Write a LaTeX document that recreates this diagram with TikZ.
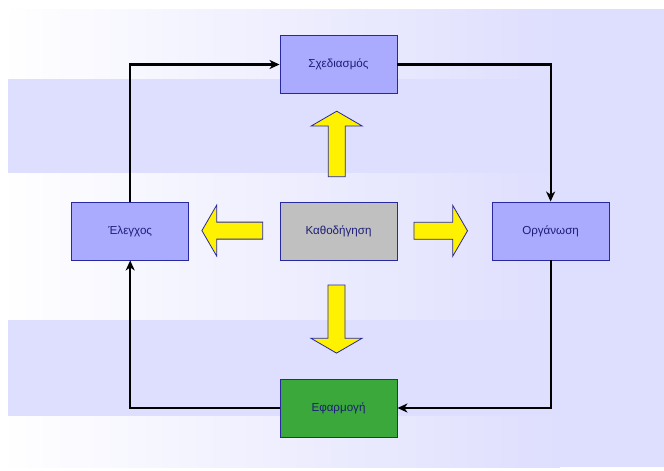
\documentclass[tikz,border=0pt]{standalone}
\usepackage{fontspec}
\setmainfont{Liberation Sans}
\usetikzlibrary{arrows.meta}

\definecolor{bandc}{RGB}{222,222,254}
\definecolor{boxblue}{RGB}{170,170,255}
\definecolor{boxgray}{RGB}{192,192,192}
\definecolor{boxgreen}{RGB}{58,168,58}
\definecolor{edgeblue}{RGB}{40,40,160}
\definecolor{textnavy}{RGB}{30,30,120}

\tikzset{
  stage/.style={draw=edgeblue, line width=0.9pt, minimum width=117pt, minimum height=58pt,
    inner sep=0pt, font=\fontsize{11.6}{13}\selectfont, text=textnavy},
  conn/.style={draw=black, line width=2.2pt,
    -{Stealth[length=10pt,width=9pt,inset=3pt]}},
  yellowarrow/.style={fill=yellow, draw=edgeblue, line width=0.8pt, line join=miter},
  pics/blockarrow/.style={code={
    \path[yellowarrow] (0,-8.5) -- (#1,-8.5) -- (#1,-25.5) -- (#1+14.8,0)
      -- (#1,25.5) -- (#1,8.5) -- (0,8.5) -- cycle;
  }}
}

\begin{document}
\begin{tikzpicture}[x=1pt, y=-1pt]
  \useasboundingbox (0,0) rectangle (664,471);

  % background: white-to-lavender wash with two horizontal bands
  \shade[left color=white, right color=bandc] (0,9) rectangle (560,467);
  \fill[bandc] (559.5,9) rectangle (664,467);
  \fill[bandc] (8,79) rectangle (664,172.5);
  \fill[bandc] (8,320) rectangle (664,416);

  % stages of the cycle
  \node[stage, fill=boxblue]  (plan)    at (338.5,64.5) {Σχεδιασμός};
  \node[stage, fill=boxblue]  (control) at (130.2,231)  {Έλεγχος};
  \node[stage, fill=boxgray]  (lead)    at (338.5,231)  {Καθοδήγηση};
  \node[stage, fill=boxblue]  (org)     at (550.6,231)  {Οργάνωση};
  \node[stage, fill=boxgreen] (apply)   at (338.5,408)  {Εφαρμογή};

  % cycle connectors
  \draw[conn] (control.north) |- (plan.west);
  \draw[conn] (plan.east) -| (org.north);
  \draw[conn] (org.south) |- (apply.east);
  \draw[conn] (apply.west) -| (control.south);

  % block arrows out of the central stage
  \pic[rotate=90]  at (336.7,176.7) {blockarrow=50.7};
  \pic[rotate=-90] at (336.5,285)   {blockarrow=53.3};
  \pic[rotate=180] at (262.7,230.6) {blockarrow=46};
  \pic             at (414,230.8)   {blockarrow=38.7};
\end{tikzpicture}
\end{document}
